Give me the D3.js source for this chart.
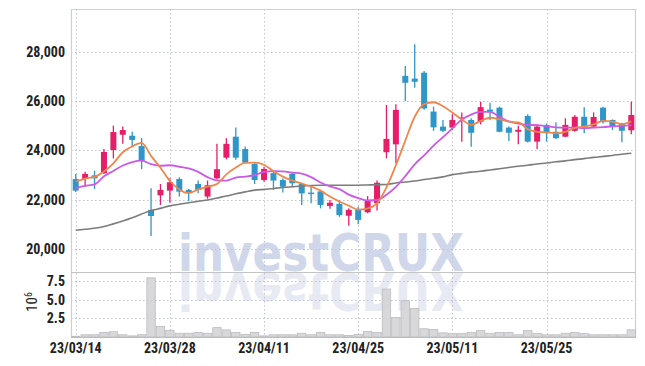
<!DOCTYPE html>
<html><head><meta charset="utf-8">
<script src="https://cdn.jsdelivr.net/npm/d3@7/dist/d3.min.js"></script>
<style>
html,body{margin:0;padding:0;background:#fff;}
svg{display:block;}
.lbl{font-family:"Liberation Sans Narrow","Roboto Condensed","DejaVu Sans Condensed","Liberation Sans",sans-serif;font-weight:bold;font-size:14px;fill:#222;}
</style></head>
<body><svg id="c" width="645" height="366"></svg>
<script>
const dates = ["23/03/14","23/03/15","23/03/16","23/03/17","23/03/20","23/03/21","23/03/22","23/03/23","23/03/24","23/03/27",
"23/03/28","23/03/29","23/03/30","23/03/31","23/04/03","23/04/04","23/04/05","23/04/06","23/04/07","23/04/10",
"23/04/11","23/04/12","23/04/13","23/04/14","23/04/17","23/04/18","23/04/19","23/04/20","23/04/21","23/04/24",
"23/04/25","23/04/26","23/04/27","23/04/28","23/05/02","23/05/03","23/05/04","23/05/08","23/05/09","23/05/10",
"23/05/11","23/05/12","23/05/15","23/05/16","23/05/17","23/05/18","23/05/19","23/05/22","23/05/23","23/05/24",
"23/05/25","23/05/26","23/05/30","23/05/31","23/06/01","23/06/02","23/06/05","23/06/07","23/06/08","23/06/09"];
const opens  = [22840,22840,22990,23080,24020,24640,24600,24180,21590,22180,22370,22840,22400,22640,22130,22870,23710,24560,24060,23450,
22800,23080,22800,23050,22640,22290,22340,21750,21830,21350,21590,21490,21860,23930,24250,27030,26920,27160,25580,24970,
24930,25290,25240,25170,25660,25740,24930,24760,25400,24360,25040,24760,24560,24800,25370,24970,25740,25240,25100,24820];
const highs  = [23050,23140,23180,24060,25010,24970,24760,24500,22470,22640,22870,22910,22440,22780,22780,24270,24500,24930,24160,23510,
23340,23210,22870,23100,22690,22530,22400,21990,21990,21650,21720,22150,22780,25850,25880,27430,28310,27230,25780,25240,
25470,25540,25310,25980,25940,25780,24970,25010,25470,25060,25100,25150,25310,25440,25760,25550,25780,25260,25130,25980];
const lows   = [22310,22530,22440,23050,23680,24270,24130,23240,20530,21790,21880,22130,21950,22260,22040,22830,23640,23620,23480,22640,
22730,22400,22290,22510,21790,21860,21650,21630,21310,20940,21000,21450,21560,23680,23480,26010,26550,25650,24800,24740,
24830,24360,24150,25060,25240,24740,24390,24250,24320,24060,24360,24470,24540,24760,24700,24930,25100,24830,24330,24660];
const closes = [22370,23050,22870,23940,24750,24830,24430,23570,21340,22400,22710,22330,22300,22400,22590,23240,24270,23710,23510,22800,
23250,22780,22530,22670,22260,22240,21790,21880,21380,21590,21180,21990,22690,24470,25650,26750,26790,25710,24940,24800,
25240,25340,24720,25760,25580,24760,24720,24840,24360,24970,24720,24500,25040,25370,24930,25360,25150,24970,24800,25440];
const volumes = [0.1,0.3,0.3,0.6,0.7,0.3,0.15,0.3,7.9,1.4,0.9,0.5,0.5,0.6,0.5,1.25,0.95,0.6,0.35,0.6,
0.15,0.3,0.3,0.3,0.5,0.3,0.6,0.3,0.3,0.2,0.35,0.75,0.6,6.4,2.6,4.85,3.8,1.1,1.0,0.55,
0.45,0.45,0.6,0.85,0.5,0.6,0.6,0.3,0.85,0.5,0.3,0.3,0.5,0.6,0.45,0.3,0.3,0.3,0.3,0.95];
const maShort = [22730,22860,22930,23150,23480,23930,24170,24310,23780,23300,22760,22420,22270,22420,22530,22640,23030,23310,23500,23510,
23420,23160,22940,22780,22660,22530,22370,22130,21930,21760,21600,21650,21850,22500,23400,24400,25370,25880,25960,25800,
25540,25260,25040,25200,25330,25270,25170,25140,24870,24760,24740,24700,24760,24920,24970,25060,25200,25170,25070,25180];
const maMid = [22470,22560,22620,22950,23170,23390,23530,23585,23450,23380,23400,23340,23270,23130,22920,22790,22780,22900,22940,23000,
23130,23160,23150,23100,23060,22920,22700,22540,22430,22210,22070,21970,21990,22200,22520,22960,23440,23800,24200,24540,
24900,25260,25460,25570,25570,25370,25180,25090,25040,25030,24990,24940,24930,24930,24900,24930,24950,24980,25000,25030];
const maLong = [20760,20800,20840,20910,21020,21140,21270,21420,21560,21650,21750,21820,21880,21940,21990,22070,22150,22240,22320,22390,
22420,22460,22500,22530,22560,22580,22590,22590,22590,22590,22590,22600,22610,22620,22680,22720,22760,22820,22870,22930,
23020,23070,23120,23160,23210,23260,23310,23360,23400,23450,23490,23540,23580,23630,23670,23720,23760,23800,23850,23890];
const priceTicks = [20000,22000,24000,26000,28000];
const volTicks = [2.5,5.0,7.5];
const dateTicks = ["23/03/14","23/03/28","23/04/11","23/04/25","23/05/11","23/05/25"];

const L=71, R=636, T=9, MID=272, B=337;
const svg = d3.select("#c");
const x = d3.scaleBand().domain(dates).range([L,R]).padding(0);
const bw = x.bandwidth();
const xc = d => x(d) + bw/2;
const y = d3.scaleLinear().domain([19066,29746]).range([MID,T]);
const yv = d3.scaleLinear().domain([0,8.68]).range([B,MID]);

// watermark
const wm = svg.append("g");
const wmStyle = s => s.attr("x",178).attr("y",MID-1).attr("textLength",286).attr("lengthAdjust","spacingAndGlyphs")
  .style("font-family","'DejaVu Sans',Verdana,sans-serif").style("font-weight","bold").style("font-size","51px");
wm.append("text").call(wmStyle).attr("fill","#d1d7ea").text("investCRUX");
wm.append("text").call(wmStyle).attr("transform",`translate(0,${2*MID}) scale(1,-1)`)
  .attr("fill","#e8eaf3").text("investCRUX");

// grid
const grid = svg.append("g").attr("stroke","#bcc3d8").attr("stroke-width",1).attr("stroke-dasharray","1.5,2.5");
grid.selectAll(".hg").data(priceTicks).join("line").attr("x1",L).attr("x2",R)
  .attr("y1",d=>Math.round(y(d))+0.5).attr("y2",d=>Math.round(y(d))+0.5);
grid.selectAll(".vg").data(volTicks).join("line").attr("class","vg").attr("x1",L).attr("x2",R)
  .attr("y1",d=>Math.round(yv(d))+0.5).attr("y2",d=>Math.round(yv(d))+0.5);
grid.selectAll(".xg").data(dateTicks).join("line").attr("class","xg").attr("y1",T).attr("y2",B)
  .attr("x1",d=>Math.round(xc(d))+0.5).attr("x2",d=>Math.round(xc(d))+0.5);

// frame
const fr = svg.append("g").attr("stroke","#cfcfcf").attr("stroke-width",1.2);
fr.append("line").attr("x1",L).attr("x2",R).attr("y1",T+0.5).attr("y2",T+0.5);
fr.append("line").attr("x1",L+0.5).attr("x2",L+0.5).attr("y1",T).attr("y2",B);
fr.append("line").attr("x1",R-0.5).attr("x2",R-0.5).attr("y1",T).attr("y2",B);
fr.append("line").attr("x1",L).attr("x2",R).attr("y1",MID+0.5).attr("y2",MID+0.5).attr("stroke","#c4c4c4");
fr.append("line").attr("x1",L).attr("x2",R).attr("y1",B+0.5).attr("y2",B+0.5).attr("stroke","#bdbdbd");

// volume
svg.append("g").selectAll("rect").data(dates).join("rect")
  .attr("x",d=>x(d)+0.5).attr("width",bw-1)
  .attr("y",(d,i)=>yv(volumes[i])).attr("height",(d,i)=>B-yv(volumes[i]))
  .attr("fill","#d4d4d6").attr("fill-opacity",0.9).attr("stroke","#bcbcbf").attr("stroke-width",0.8);

// candles
const up = "#e61e68", dn = "#2e96c9";
const cg = svg.append("g");
dates.forEach((d,i)=>{
  const col = closes[i] >= opens[i] ? up : dn;
  cg.append("line").attr("x1",xc(d)).attr("x2",xc(d)).attr("y1",y(highs[i])).attr("y2",y(lows[i]))
    .attr("stroke",col).attr("stroke-width",1.3);
  const top = y(Math.max(opens[i],closes[i])), bot = y(Math.min(opens[i],closes[i]));
  cg.append("rect").attr("x",xc(d)-3).attr("width",6).attr("y",top).attr("height",Math.max(1.5,bot-top))
    .attr("fill",col);
});

// moving averages
const line = arr => d3.line().x((d,i)=>xc(dates[i])).y(d=>y(d)).curve(d3.curveMonotoneX)(arr);
svg.append("path").attr("d",line(maLong)).attr("fill","none").attr("stroke","#7c7c7c").attr("stroke-width",1.6);
svg.append("path").attr("d",line(maMid)).attr("fill","none").attr("stroke","#cc5ae8").attr("stroke-width",1.8);
svg.append("path").attr("d",line(maShort)).attr("fill","none").attr("stroke","#ef874c").attr("stroke-width",1.8);

// axes
const ya = svg.append("g").attr("transform",`translate(${L},0)`)
  .call(d3.axisLeft(y).tickValues(priceTicks).tickFormat(d3.format(",")).tickSize(0).tickPadding(6));
ya.select(".domain").remove();
ya.selectAll("text").attr("class","lbl").attr("font-family",null).attr("font-size",null);
const va = svg.append("g").attr("transform",`translate(${L},0)`)
  .call(d3.axisLeft(yv).tickValues(volTicks).tickFormat(d3.format(".1f")).tickSize(0).tickPadding(6));
va.select(".domain").remove();
va.selectAll("text").attr("class","lbl").attr("font-family",null).attr("font-size",null);
const xa = svg.append("g").attr("transform",`translate(0,${B})`)
  .call(d3.axisBottom(x).tickValues(dateTicks).tickSize(0).tickPadding(6));
xa.select(".domain").remove();
xa.selectAll("text").attr("class","lbl").attr("font-family",null).attr("font-size",null);

const vl = svg.append("text").attr("class","lbl").attr("transform","translate(37,302) rotate(-90)")
  .attr("text-anchor","middle").style("font-weight","normal").style("font-size","15px");
vl.append("tspan").text("10");
vl.append("tspan").attr("baseline-shift","super").style("font-size","10px").text("6");
</script></body></html>
